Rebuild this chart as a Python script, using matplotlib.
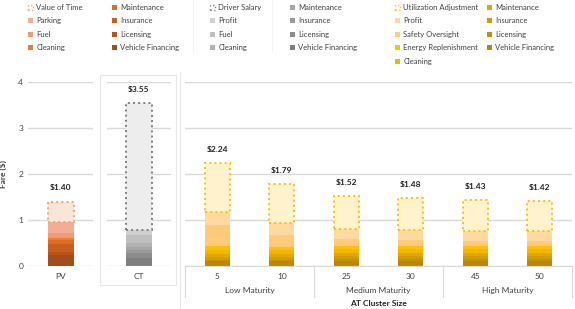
import matplotlib.pyplot as plt
from matplotlib.patches import Patch, Rectangle
from matplotlib.lines import Line2D

plt.rcParams["font.family"] = ["Lato", "DejaVu Sans"]

# data (components listed top of stack -> bottom)
pv_labels = ['Value of Time', 'Parking', 'Fuel', 'Cleaning',
             'Maintenance', 'Insurance', 'Licensing', 'Vehicle Financing']
pv_values = [0.44, 0.24, 0.11, 0.05, 0.08, 0.18, 0.05, 0.25]

ct_labels = ['Driver Salary', 'Profit', 'Fuel', 'Cleaning',
             'Maintenance', 'Insurance', 'Licensing', 'Vehicle Financing']
ct_values = [2.77, 0.11, 0.18, 0.07, 0.07, 0.07, 0.11, 0.17]

at_clusters = ['5', '10', '25', '30', '45', '50']
at_groups = ['Low Maturity', 'Medium Maturity', 'High Maturity']
at_labels = ['Utilization Adjustment', 'Profit', 'Safety Oversight',
             'Energy Replenishment', 'Cleaning', 'Maintenance',
             'Insurance', 'Licensing', 'Vehicle Financing']
at_util = [1.06, 0.85, 0.72, 0.69, 0.67, 0.66]
at_profit = [0.29, 0.27, 0.22, 0.22, 0.21, 0.21]
at_safety = [0.46, 0.25, 0.14, 0.13, 0.11, 0.11]
at_energy = [0.09, 0.08, 0.08, 0.08, 0.08, 0.08]
at_cleaning = [0.07, 0.07, 0.07, 0.07, 0.07, 0.07]
at_maint = [0.08, 0.08, 0.08, 0.08, 0.08, 0.08]
at_insur = [0.05, 0.05, 0.05, 0.05, 0.05, 0.05]
at_licen = [0.04, 0.04, 0.06, 0.06, 0.06, 0.06]
at_vfin = [0.10, 0.10, 0.10, 0.10, 0.10, 0.10]
at_values = [at_util, at_profit, at_safety, at_energy, at_cleaning,
             at_maint, at_insur, at_licen, at_vfin]

pv_colors = ['#FBE5D6', '#F2AE95', '#F09A78', '#ED7D31', '#DC6D27',
             '#C95E1C', '#B85419', '#A04E1E']
ct_colors = ['#EDEDED', '#D0D0D0', '#BFBFBF', '#B2B2B2', '#A6A6A6',
             '#999999', '#8C8C8C', '#7F7F7F']
at_colors = ['#FFF2CC', '#FFD9A0', '#FFCA7A', '#FFC000', '#F2B600',
             '#E0A800', '#D09C00', '#C49000', '#B8860B']
dot_edges = ['#F8A46A', '#7F7F7F', '#FFC000']

W, H = 575, 309
fig = plt.figure(figsize=(W / 100, H / 100), dpi=100)


def px_axes(x0, x1, ytop, ybot):
    return fig.add_axes([x0 / W, 1 - ybot / H, (x1 - x0) / W, (ybot - ytop) / H])


def style(ax):
    ax.set_ylim(0, 4)
    ax.set_yticks([0, 1, 2, 3, 4])
    ax.yaxis.grid(True, color='#D9D9D9', lw=1)
    ax.set_axisbelow(True)
    for s in ax.spines.values():
        s.set_visible(False)
    ax.tick_params(length=0, labelsize=6, colors='#404040')


def stack(ax, xs, cols, colors, edge, width):
    # cols: list of series (top -> bottom), each a list per x
    n = len(xs)
    bottom = [0.0] * n
    for i in range(len(cols) - 1, -1, -1):
        vals = cols[i]
        if i == 0:
            ax.bar(xs, vals, width, bottom=bottom, color=colors[i],
                   edgecolor=edge, linestyle=':', linewidth=1.4, zorder=2)
        else:
            ax.bar(xs, vals, width, bottom=bottom, color=colors[i],
                   edgecolor='none', zorder=2)
        bottom = [b + v for b, v in zip(bottom, vals)]
    for x, t in zip(xs, bottom):
        ax.text(x, t + 0.22, f'${t:.2f}', ha='center', va='bottom',
                fontsize=6, fontweight='bold', color='#222222')


# PV panel
ax1 = px_axes(28, 93, 82, 266)
style(ax1)
ax1.set_xlim(-0.5, 0.5)
stack(ax1, [0], [[v] for v in pv_values], pv_colors, dot_edges[0], 0.4)
ax1.set_xticks([0])
ax1.set_xticklabels(['PV'], fontsize=6)
ax1.tick_params(axis='x', pad=5)
ax1.set_ylabel('Fare ($)', fontsize=6, fontweight='bold', color='#404040', labelpad=8)

# CT panel
fig.patches.append(Rectangle((100 / W, 1 - 285 / H), 76 / W, 210 / H,
                             transform=fig.transFigure, fill=False,
                             edgecolor='#E6E6E6', lw=0.8))
ax2 = px_axes(107, 171, 82, 266)
style(ax2)
ax2.set_xlim(-0.5, 0.5)
stack(ax2, [0], [[v] for v in ct_values], ct_colors, dot_edges[1], 0.42)
ax2.set_xticks([0])
ax2.set_xticklabels(['CT'], fontsize=6)
ax2.tick_params(axis='x', pad=5)
ax2.set_yticklabels([])

# AT panel
fig.add_artist(Line2D([180 / W, 180 / W], [0, 1 - 72 / H], color='#E6E6E6', lw=0.8))
ax3 = px_axes(185, 572, 82, 266)
style(ax3)
ax3.set_xlim(-0.5, 5.5)
xs = list(range(len(at_clusters)))
stack(ax3, xs, at_values, at_colors, dot_edges[2], 0.39)
ax3.set_xticks(xs)
ax3.set_xticklabels(at_clusters, fontsize=6)
ax3.tick_params(axis='x', pad=5)
ax3.set_yticklabels([])
tr = ax3.get_xaxis_transform()
ax3.plot([-0.5, 5.5], [0, 0], transform=tr, color='#D9D9D9', lw=0.8, clip_on=False)
for b in [-0.5, 1.5, 3.5, 5.5]:
    ax3.plot([b, b], [0, -31 / 184], transform=tr, color='#D9D9D9', lw=0.8, clip_on=False)
for g, name in enumerate(at_groups):
    ax3.text(2 * g + 0.5, -25 / 184, name, transform=tr, ha='center', va='center',
             fontsize=6, color='#404040')
ax3.text(2.5, -37 / 184, 'AT Cluster Size', transform=tr, ha='center', va='center',
         fontsize=6, fontweight='bold', color='#222222')


# legends, one per column
def legend_col(labels, colors, edge_first, x, first_dotted):
    handles = []
    for i, c in enumerate(colors):
        if first_dotted and i == 0:
            handles.append(Patch(facecolor='white', edgecolor=edge_first,
                                 linestyle=':', linewidth=1.0))
        else:
            handles.append(Patch(facecolor=c, edgecolor='none'))
    fig.legend(handles, labels, loc='upper left',
               bbox_to_anchor=(x / W, 1 - 4 / H), frameon=False,
               borderaxespad=0, borderpad=0, handlelength=0.7, handleheight=0.7,
               handletextpad=0.4, labelspacing=0.85, fontsize=5.5,
               labelcolor='#404040')


legend_col(pv_labels[:4], pv_colors[:4], dot_edges[0], 28, True)
legend_col(pv_labels[4:], pv_colors[4:], None, 112, False)
legend_col(ct_labels[:4], ct_colors[:4], dot_edges[1], 210, True)
legend_col(ct_labels[4:], ct_colors[4:], None, 290, False)
legend_col(at_labels[:5], at_colors[:5], dot_edges[2], 395, True)
legend_col(at_labels[5:], at_colors[5:], None, 487, False)

for lx in [193, 272]:
    fig.add_artist(Line2D([lx / W, lx / W], [1 - 52 / H, 1], color='#F2F2F2', lw=0.6))

fig.savefig('out.png', dpi=100)
